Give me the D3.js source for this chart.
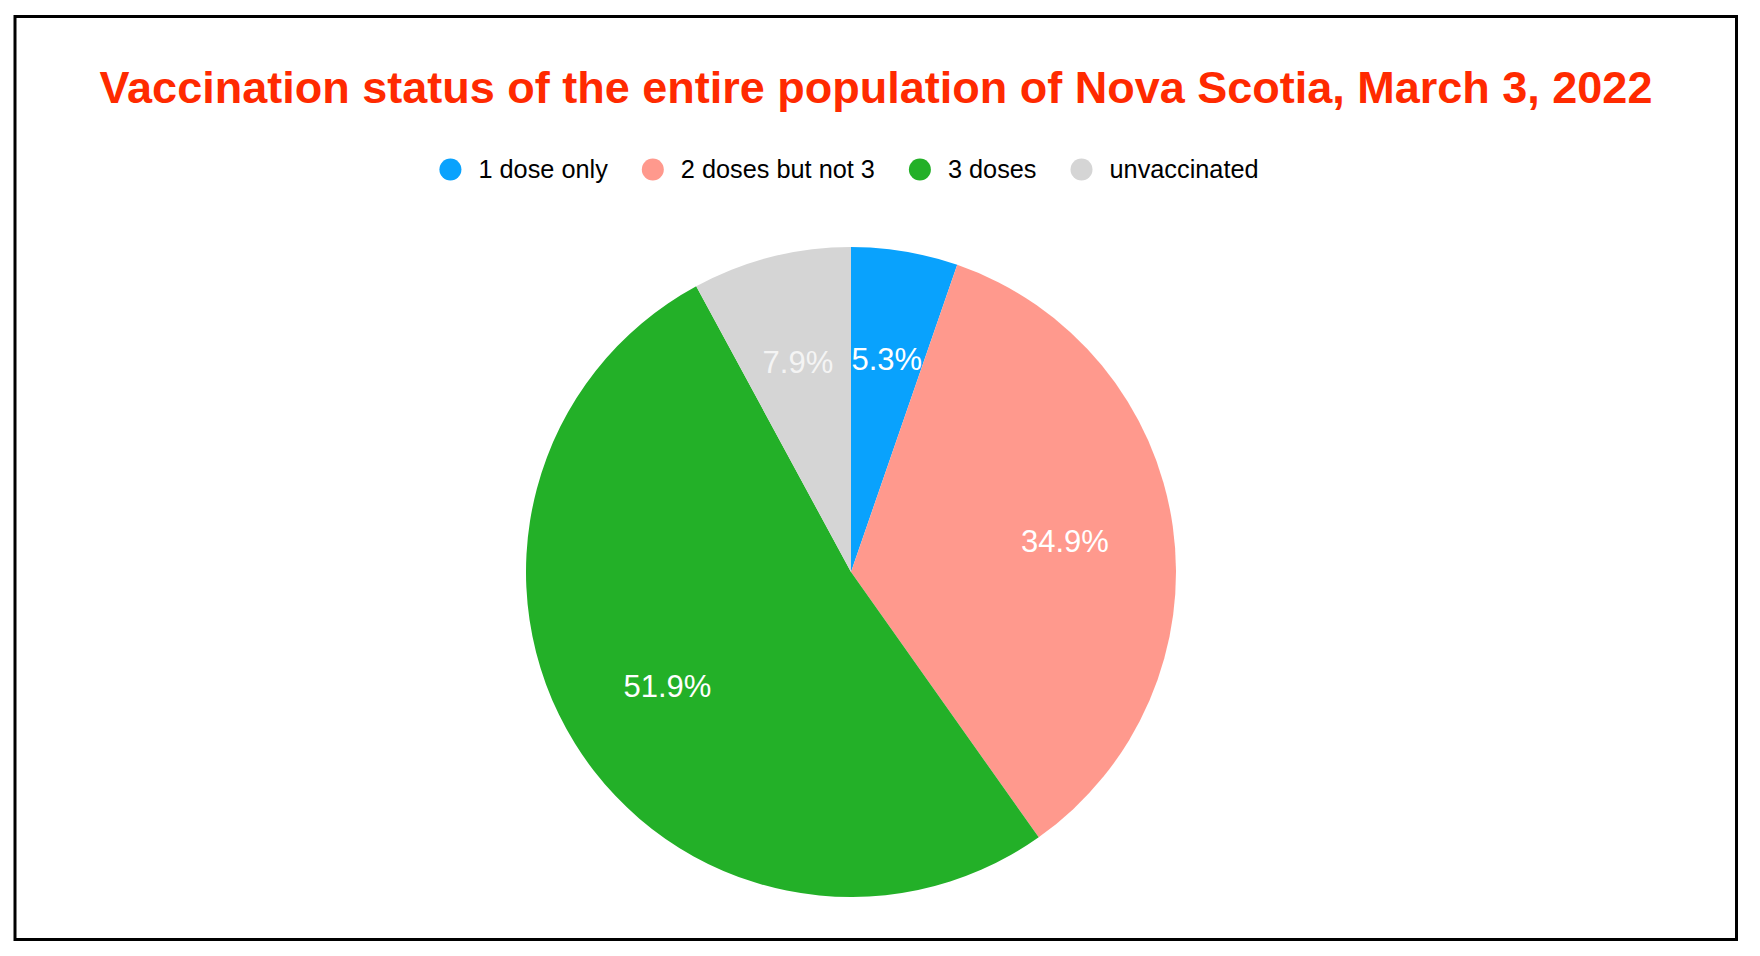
<!DOCTYPE html>
<html>
<head>
<meta charset="utf-8">
<script src="https://cdn.jsdelivr.net/npm/d3@7"></script>
<style>
  html, body { margin: 0; padding: 0; background: #fff; }
  svg { display: block; }
</style>
</head>
<body>
<svg id="chart" width="1760" height="956"></svg>
<script>
const titleText = "Vaccination status of the entire population of Nova Scotia, March 3, 2022";
const categories = ["1 dose only", "2 doses but not 3", "3 doses", "unvaccinated"];
const values = [5.3, 34.9, 51.9, 7.9];
const colors = ["#09a2fd", "#ff998d", "#23b028", "#d5d5d5"];
const labelColors = ["#ffffff", "#ffffff", "#ffffff", "#f4f4f4"];

const W = 1760, H = 956;
const font = "'Liberation Sans', Arial, Helvetica, sans-serif";
const svg = d3.select("#chart");

svg.append("rect").attr("width", W).attr("height", H).attr("fill", "#fff");

// frame
svg.append("rect")
  .attr("x", 15).attr("y", 16.5)
  .attr("width", 1721.5).attr("height", 923)
  .attr("fill", "none").attr("stroke", "#000").attr("stroke-width", 3);

// title
svg.append("text")
  .attr("x", 876).attr("y", 103)
  .attr("text-anchor", "middle")
  .attr("font-family", font).attr("font-weight", "bold")
  .attr("font-size", 45)
  .attr("fill", "#ff2a00")
  .text(titleText);

// legend
const legend = svg.append("g");
const legendY = 169.5, r = 11, gapText = 17, gapItem = 34;
let x = 0;
categories.forEach((c, i) => {
  const g = legend.append("g");
  g.append("circle").attr("cx", x + r).attr("cy", legendY).attr("r", r).attr("fill", colors[i]);
  const t = g.append("text")
    .attr("x", x + 2 * r + gapText).attr("y", legendY)
    .attr("dy", "0.35em")
    .attr("font-family", font).attr("font-size", 25.3)
    .attr("fill", "#000")
    .text(c);
  const w = t.node().getComputedTextLength();
  x += 2 * r + gapText + w + gapItem;
});
const totalW = x - gapItem;
legend.attr("transform", `translate(${849 - totalW / 2},0)`);

// pie
const cx = 851, cy = 572, R = 325;
const pie = d3.pie().sort(null).value(d => d)(values);
const arc = d3.arc().innerRadius(0).outerRadius(R);
const labelArc = d3.arc().innerRadius(R * 0.665).outerRadius(R * 0.665);
const pg = svg.append("g").attr("transform", `translate(${cx},${cy})`);
pg.selectAll("path").data(pie).join("path")
  .attr("d", arc)
  .attr("fill", (d, i) => colors[i]);
pg.selectAll("text").data(pie).join("text")
  .attr("transform", d => `translate(${labelArc.centroid(d)})`)
  .attr("text-anchor", "middle")
  .attr("dy", "0.35em")
  .attr("font-family", font).attr("font-size", 31)
  .attr("fill", (d, i) => labelColors[i])
  .text(d => d.data.toFixed(1) + "%");
</script>
</body>
</html>
